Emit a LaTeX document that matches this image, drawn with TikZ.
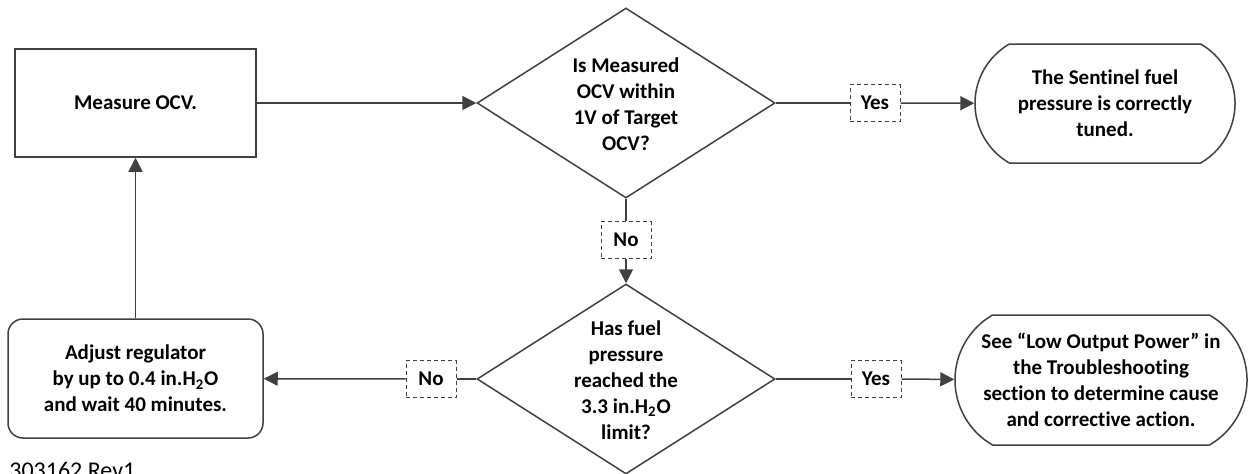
\documentclass[tikz,border=0pt]{standalone}
\usepackage{fontspec}
\setmainfont{Carlito}[Ligatures=NoCommon]
\usetikzlibrary{shapes.geometric,shapes.misc,arrows.meta}
\definecolor{linegray}{RGB}{64,64,64}
\newcommand{\flowfont}{\fontsize{10.5}{13}\selectfont}
\tikzstyle{procbox} = [draw=linegray,line width=0.75pt,align=center,
    font=\bfseries\flowfont,inner sep=0pt]
\tikzstyle{decision} = [diamond,draw=linegray,line width=0.75pt,inner sep=0pt,
    minimum width=149pt,minimum height=95pt]
\tikzstyle{terminal} = [rounded rectangle,rounded rectangle arc length=120,
    draw=linegray,line width=0.75pt,align=center,font=\bfseries\flowfont,inner sep=0pt]
\tikzstyle{answer} = [draw=linegray,line width=0.5pt,dash pattern=on 2pt off 1.5pt,
    minimum width=25pt,minimum height=18.5pt,inner sep=0pt,font=\bfseries\flowfont,fill=white]
\tikzstyle{flow} = [draw=linegray,line width=0.75pt]
\tikzstyle{flowarr} = [flow,-{Triangle[length=7pt,width=7pt]}]

\begin{document}
\begin{tikzpicture}[x=0.5pt,y=-0.5pt]
	\useasboundingbox (0,0) rectangle (1248,473);

	% steps
	\node(measure) at (135.5,103) [procbox,minimum width=120.5pt,minimum height=54pt] {Measure OCV.};
	\node(adjust) at (135.5,378.5) [procbox,rounded corners=7.5pt,minimum width=127.5pt,minimum height=59.5pt]
		{Adjust regulator\\by up to 0.4 in.H\textsubscript{2}O\\and wait 40 minutes.};

	% questions
	\node(ocvcheck) at (626,103) [decision] {};
	\node(ocvchecktxt) at (626,104) [align=center,font=\bfseries\flowfont,inner sep=0pt]
		{Is Measured\\OCV within\\1V of Target\\OCV?};
	\node(limitcheck) at (626,379) [decision] {};
	\node(limitchecktxt) at (626,380) [align=center,font=\bfseries\flowfont,inner sep=0pt]
		{Has fuel\\pressure\\reached the\\3.3 in.H\textsubscript{2}O\\limit?};

	% ends
	\node(tuned) at (1105,103.5) [terminal,minimum width=130pt,minimum height=59.5pt]
		{The Sentinel fuel\\pressure is correctly\\tuned.};
	\node(lowpower) at (1101,380) [terminal,minimum width=146pt,minimum height=65pt]
		{See “Low Output Power” in\\the Troubleshooting\\section to determine cause\\and corrective action.};

	% answers
	\node(yes1) at (875,103) [answer] {Yes};
	\node(no1) at (626,240) [answer] {No};
	\node(no2) at (431,379) [answer] {No};
	\node(yes2) at (876,379) [answer] {Yes};

	\draw[flowarr] (measure) -- (ocvcheck.west);
	\draw[flow] (ocvcheck.east) -- (yes1);
	\draw[flowarr] (yes1) -- (tuned);
	\draw[flow] (ocvcheck.south) -- (no1);
	\draw[flowarr] (no1) -- (limitcheck.north);
	\draw[flow] (limitcheck.east) -- (yes2);
	\draw[flowarr] (yes2) -- (lowpower);
	\draw[flow] (limitcheck.west) -- (no2);
	\draw[flowarr] (no2) -- (adjust);
	\draw[flowarr] (adjust) -- (measure);

	\node(revtag) at (9,462) [anchor=north west,inner sep=0pt,font=\fontsize{12}{14}\selectfont] {303162 Rev1};
\end{tikzpicture}
\end{document}
